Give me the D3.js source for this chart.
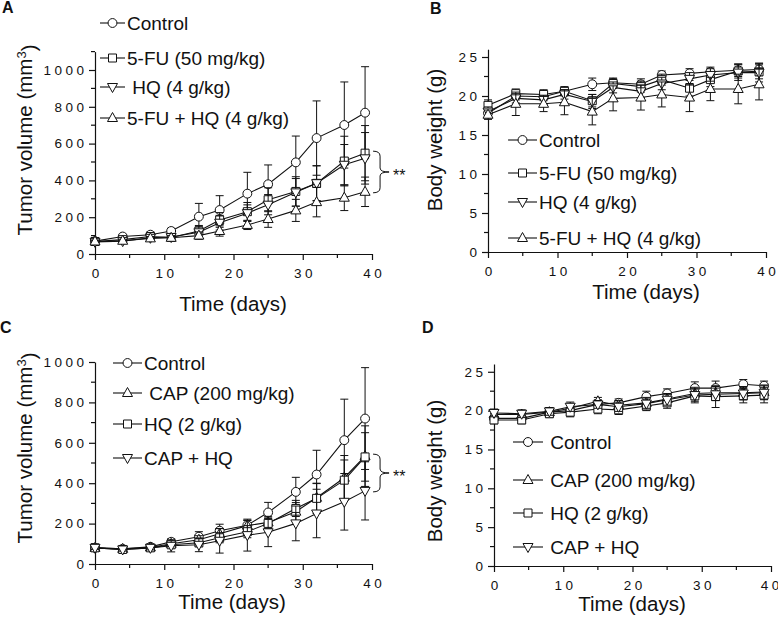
<!DOCTYPE html>
<html lang="en">
<head>
<meta charset="utf-8">
<title>Tumor volume and body weight</title>
<script src="https://cdn.jsdelivr.net/npm/d3@7"></script>
<style>
  body { margin: 0; background: #fff; }
  svg text { font-family: Arial, "Liberation Sans", sans-serif; fill: #111; }
  .tick text { font-size: 13.5px; }
  .axis path, .axis line { stroke: #111; stroke-width: 1.2; }
  .legend text { font-size: 19px; }
  .title { font-size: 20.5px; }
  .plabel { font-size: 16px; font-weight: bold; }
</style>
</head>
<body>
<svg id="fig" width="778" height="621"></svg>
<script>
// measurement days
var days = [0, 4, 8, 11, 15, 18, 22, 25, 29, 32, 36, 39];

// panel A: tumor volume (mm3)
var labelsA = ["Control", "5-FU (50 mg/kg)", " HQ (4 g/kg)", "5-FU + HQ (4 g/kg)"];
var tumorA_ctrl     = [70, 95, 105, 125, 203, 239, 328, 379, 498, 630, 701, 768];
var tumorA_ctrl_sd  = [10, 12, 15, 15, 72, 78, 116, 105, 143, 202, 234, 250];
var tumorA_fu       = [68, 78, 95, 90, 125, 185, 230, 295, 340, 384, 505, 548];
var tumorA_fu_sd    = [10, 10, 15, 15, 30, 40, 50, 65, 80, 95, 135, 150];
var tumorA_hq       = [66, 70, 88, 92, 118, 170, 222, 268, 335, 385, 485, 520];
var tumorA_hq_sd    = [10, 10, 15, 15, 30, 40, 45, 55, 75, 95, 110, 140];
var tumorA_combo    = [68, 72, 85, 88, 100, 125, 158, 190, 237, 282, 306, 338];
var tumorA_combo_sd = [8, 8, 10, 12, 20, 28, 25, 45, 60, 80, 70, 80];

// panel B: body weight (g)
var labelsB = ["Control", "5-FU (50 mg/kg)", "HQ (4 g/kg)", "5-FU + HQ (4 g/kg)"];
var weightB_ctrl     = [17.8, 20.0, 19.9, 20.6, 21.5, 21.7, 21.5, 22.7, 22.9, 23.1, 23.3, 23.4];
var weightB_ctrl_sd  = [0.6, 0.5, 0.5, 0.5, 0.8, 0.6, 0.7, 0.5, 0.6, 0.6, 0.8, 0.8];
var weightB_fu       = [18.8, 20.3, 20.2, 20.6, 19.4, 21.6, 21.2, 22.1, 21.0, 22.1, 23.2, 23.1];
var weightB_fu_sd    = [0.7, 0.6, 0.6, 0.6, 0.8, 0.6, 0.7, 0.7, 1.0, 0.9, 0.9, 0.9];
var weightB_hq       = [18.0, 19.7, 19.5, 20.2, 19.3, 21.1, 20.6, 21.6, 22.2, 22.7, 23.0, 23.0];
var weightB_hq_sd    = [0.6, 0.6, 0.6, 0.6, 0.9, 0.7, 0.8, 0.8, 0.8, 0.8, 1.0, 1.2];
var weightB_combo    = [17.6, 19.0, 19.0, 19.2, 18.0, 19.7, 19.8, 20.2, 19.8, 20.9, 20.9, 21.5];
var weightB_combo_sd = [0.6, 1.5, 1.0, 1.6, 1.7, 1.6, 1.6, 1.6, 1.8, 1.5, 1.9, 2.0];

// panel C: tumor volume (mm3)
var labelsC = ["Control", " CAP (200 mg/kg)", "HQ (2 g/kg)", "CAP + HQ"];
var tumorC_ctrl     = [80, 75, 85, 110, 135, 165, 192, 255, 357, 443, 613, 720];
var tumorC_ctrl_sd  = [8, 8, 10, 15, 25, 32, 25, 50, 72, 120, 203, 252];
var tumorC_cap      = [80, 75, 82, 100, 120, 150, 190, 206, 259, 328, 427, 534];
var tumorC_cap_sd   = [8, 8, 10, 15, 20, 25, 25, 30, 45, 70, 110, 150];
var tumorC_hq       = [80, 72, 80, 95, 105, 130, 160, 201, 275, 325, 415, 530];
var tumorC_hq_sd    = [8, 8, 10, 15, 20, 25, 30, 25, 40, 75, 100, 120];
var tumorC_combo    = [80, 72, 80, 90, 95, 115, 143, 157, 201, 250, 308, 362];
var tumorC_combo_sd = [8, 8, 10, 30, 34, 61, 79, 71, 86, 120, 140, 144];

// panel D: body weight (g)
var labelsD = [" Control", " CAP (200 mg/kg)", " HQ (2 g/kg)", " CAP + HQ"];
var weightD_ctrl     = [19.0, 19.0, 19.8, 20.0, 20.8, 21.0, 21.8, 22.2, 22.9, 22.9, 23.4, 23.2];
var weightD_ctrl_sd  = [0.6, 0.6, 0.6, 0.7, 0.6, 0.5, 0.7, 0.6, 0.8, 0.9, 0.6, 0.6];
var weightD_cap      = [19.5, 19.5, 19.8, 20.3, 21.2, 20.7, 21.0, 21.5, 22.2, 22.3, 22.3, 22.4];
var weightD_cap_sd   = [0.5, 0.5, 0.5, 0.6, 0.5, 0.6, 0.7, 0.7, 0.8, 0.8, 0.8, 0.9];
var weightD_hq       = [18.8, 18.8, 19.6, 19.8, 20.2, 20.1, 20.6, 21.0, 21.9, 21.8, 21.9, 22.0];
var weightD_hq_sd    = [0.5, 0.5, 0.5, 0.6, 0.6, 0.6, 0.6, 0.7, 0.9, 1.4, 0.9, 1.0];
var weightD_combo    = [19.7, 19.6, 19.9, 20.5, 20.8, 20.5, 20.9, 21.4, 22.0, 22.1, 22.2, 22.3];
var weightD_combo_sd = [0.5, 0.5, 0.5, 0.6, 0.5, 0.6, 0.6, 0.7, 0.8, 0.8, 0.8, 0.9];

var xTicks = [0, 10, 20, 30, 40];
var xMinor = [5, 15, 25, 35];

var W = 778;
var svg = d3.select("#fig");

// open markers
var shapes = {
  circle: d3.symbol(d3.symbolCircle, 62)(),
  square: "M-4,-4H4V4H-4Z",
  up: "M0,-5.5L5,3.5L-5,3.5Z",
  down: "M0,5.5L5,-3.5L-5,-3.5Z"
};

// wide digit spacing on tick labels, done with per-glyph dx
function spaceOut(sel, gap) {
  sel.attr("dx", function() {
    var n = this.textContent.length, a = [0];
    for (var i = 1; i < n; i++) a.push(gap);
    return a.join(" ");
  });
}

function panel(cfg) {
  var g = svg.append("g");
  var x = d3.scaleLinear([0, 40], cfg.xr);
  var y = d3.scaleLinear([0, cfg.ymax], cfg.yr);

  // x axis
  var xa = g.append("g").attr("class", "axis")
    .attr("transform", "translate(0," + cfg.yr[0] + ")")
    .call(d3.axisBottom(x).tickValues(xTicks).tickFormat(d3.format("d"))
      .tickSize(6).tickSizeOuter(0).tickPadding(8));
  spaceOut(xa.selectAll(".tick text"), 3.5);
  // keep the last label inside the picture
  xa.selectAll(".tick text").each(function(d) {
    var over = x(d) + this.getComputedTextLength() / 2 - (W - 1);
    if (over > 0) d3.select(this).attr("x", -over);
  });
  xa.selectAll(".minor").data(xMinor).join("line").attr("class", "minor")
    .attr("x1", x).attr("x2", x).attr("y1", 0).attr("y2", 4);

  // y axis
  var ya = g.append("g").attr("class", "axis")
    .attr("transform", "translate(" + cfg.xr[0] + ",0)")
    .call(d3.axisLeft(y).tickValues(cfg.yTicks).tickFormat(d3.format("d"))
      .tickSize(6).tickSizeOuter(0).tickPadding(5));
  spaceOut(ya.selectAll(".tick text"), 3.5);
  ya.selectAll(".minor").data(cfg.yMinor).join("line").attr("class", "minor")
    .attr("y1", y).attr("y2", y).attr("x1", 0).attr("x2", -4);
  g.selectAll(".axis path").attr("fill", "none");

  // series
  var line = d3.line().x(function(d) { return x(d.t); }).y(function(d) { return y(d.v); });
  cfg.series.forEach(function(s) {
    var pts = days.map(function(t, i) { return { t: t, v: s.mean[i], e: s.sd[i] }; });
    var sg = g.append("g");
    sg.selectAll(".eb").data(pts).join("path").attr("class", "eb")
      .attr("fill", "none").attr("stroke", "#111").attr("stroke-width", 1)
      .attr("d", function(d) {
        var cx = x(d.t), hi = y(d.v + d.e), lo = y(d.v - d.e);
        return "M" + cx + "," + lo + "V" + hi + "M" + (cx - 4) + "," + hi + "H" + (cx + 4) +
               "M" + (cx - 4) + "," + lo + "H" + (cx + 4);
      });
    sg.append("path").datum(pts).attr("fill", "none").attr("stroke", "#111")
      .attr("stroke-width", 1.1).attr("d", line);
    sg.selectAll(".mk").data(pts).join("path").attr("class", "mk")
      .attr("transform", function(d) { return "translate(" + x(d.t) + "," + y(d.v) + ")"; })
      .attr("d", shapes[s.sym]).attr("fill", "#fff").attr("stroke", "#111").attr("stroke-width", 1);
  });

  // legend
  var lg = g.append("g").attr("class", "legend");
  cfg.series.forEach(function(s, i) {
    var ly = cfg.legY[i];
    lg.append("line").attr("x1", cfg.legX[0]).attr("x2", cfg.legX[1])
      .attr("y1", ly).attr("y2", ly).attr("stroke", "#111").attr("stroke-width", 1.1);
    lg.append("path").attr("d", shapes[s.sym])
      .attr("transform", "translate(" + (cfg.legX[0] + cfg.legX[1]) / 2 + "," + ly + ")")
      .attr("fill", "#fff").attr("stroke", "#111");
    lg.append("text").attr("x", cfg.legX[1] + 2).attr("y", ly).attr("dy", "0.36em")
      .style("white-space", "pre").attr("xml:space", "preserve").text(s.name);
  });

  // titles
  var yt = g.append("text").attr("class", "title").attr("text-anchor", "middle")
    .attr("transform", "translate(" + cfg.yTitle[0] + "," + cfg.yTitle[1] + ") rotate(-90)")
    .attr("dy", "0.35em");
  yt.append("tspan").text(cfg.yLabel);
  if (cfg.sup) {
    yt.append("tspan").attr("dy", "-0.45em").style("font-size", "13px").text(cfg.sup);
    yt.append("tspan").attr("dy", "0.45em").text(")");
  }
  g.append("text").attr("class", "title").attr("text-anchor", "middle")
    .attr("x", cfg.xTitle[0]).attr("y", cfg.xTitle[1]).text("Time (days)");
  g.append("text").attr("class", "plabel").attr("x", cfg.plabel[0]).attr("y", cfg.plabel[1])
    .text(cfg.letter);

  // significance brace
  if (cfg.brace) {
    var last = days.length - 1;
    var top = y(cfg.brace[0][last]) - 2, bot = y(cfg.brace[1][last]) + 1;
    var x0 = x(39) + 8, x1 = x0 + 7, mid = (top + bot) / 2;
    g.append("path").attr("fill", "none").attr("stroke", "#111").attr("stroke-width", 1)
      .attr("d", "M" + x0 + "," + top + "Q" + x1 + "," + top + " " + x1 + "," + (top + 5) +
        "V" + (mid - 4) + "Q" + x1 + "," + mid + " " + (x1 + 9) + "," + mid +
        "Q" + x1 + "," + mid + " " + x1 + "," + (mid + 4) +
        "V" + (bot - 5) + "Q" + x1 + "," + bot + " " + x0 + "," + bot);
    g.append("text").attr("x", x1 + 13).attr("y", mid + 9).style("font-size", "16px").text("**");
  }
}

panel({
  letter: "A", plabel: [2, 13],
  xr: [95, 372], yr: [254, 51.6], ymax: 1100,
  yTicks: [0, 200, 400, 600, 800, 1000], yMinor: [100, 300, 500, 700, 900, 1100],
  yLabel: "Tumor volume (mm", sup: "3", yTitle: [25, 140], xTitle: [233, 311],
  legX: [100, 125], legY: [23, 58, 87, 118],
  series: [
    { name: labelsA[0], sym: "circle", mean: tumorA_ctrl, sd: tumorA_ctrl_sd },
    { name: labelsA[1], sym: "square", mean: tumorA_fu, sd: tumorA_fu_sd },
    { name: labelsA[2], sym: "down", mean: tumorA_hq, sd: tumorA_hq_sd },
    { name: labelsA[3], sym: "up", mean: tumorA_combo, sd: tumorA_combo_sd }
  ],
  brace: [tumorA_fu, tumorA_combo]
});

panel({
  letter: "B", plabel: [430, 14],
  xr: [488, 766], yr: [252, 49.2], ymax: 26,
  yTicks: [0, 5, 10, 15, 20, 25], yMinor: [2.5, 7.5, 12.5, 17.5, 22.5],
  yLabel: "Body weight (g)", yTitle: [435, 140], xTitle: [646, 299],
  legX: [508, 537], legY: [140, 173, 202, 238],
  series: [
    { name: labelsB[0], sym: "circle", mean: weightB_ctrl, sd: weightB_ctrl_sd },
    { name: labelsB[1], sym: "square", mean: weightB_fu, sd: weightB_fu_sd },
    { name: labelsB[2], sym: "down", mean: weightB_hq, sd: weightB_hq_sd },
    { name: labelsB[3], sym: "up", mean: weightB_combo, sd: weightB_combo_sd }
  ]
});

panel({
  letter: "C", plabel: [0, 333],
  xr: [95, 372], yr: [564, 362], ymax: 1000,
  yTicks: [0, 200, 400, 600, 800, 1000], yMinor: [100, 300, 500, 700, 900],
  yLabel: "Tumor volume (mm", sup: "3", yTitle: [25, 448], xTitle: [232, 609],
  legX: [113, 142], legY: [363, 393, 424, 458],
  series: [
    { name: labelsC[0], sym: "circle", mean: tumorC_ctrl, sd: tumorC_ctrl_sd },
    { name: labelsC[1], sym: "up", mean: tumorC_cap, sd: tumorC_cap_sd },
    { name: labelsC[2], sym: "square", mean: tumorC_hq, sd: tumorC_hq_sd },
    { name: labelsC[3], sym: "down", mean: tumorC_combo, sd: tumorC_combo_sd }
  ],
  brace: [tumorC_cap, tumorC_combo]
});

panel({
  letter: "D", plabel: [422, 333],
  xr: [494, 771], yr: [566, 364], ymax: 26,
  yTicks: [0, 5, 10, 15, 20, 25], yMinor: [2.5, 7.5, 12.5, 17.5, 22.5],
  yLabel: "Body weight (g)", yTitle: [435, 471], xTitle: [632, 611],
  legX: [513, 543], legY: [442, 480, 513, 547],
  series: [
    { name: labelsD[0], sym: "circle", mean: weightD_ctrl, sd: weightD_ctrl_sd },
    { name: labelsD[1], sym: "up", mean: weightD_cap, sd: weightD_cap_sd },
    { name: labelsD[2], sym: "square", mean: weightD_hq, sd: weightD_hq_sd },
    { name: labelsD[3], sym: "down", mean: weightD_combo, sd: weightD_combo_sd }
  ]
});
</script>
</body>
</html>
